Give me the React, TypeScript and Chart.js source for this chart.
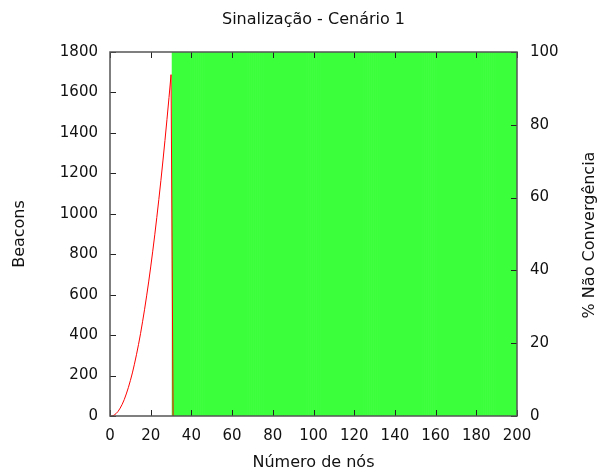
import React, { useEffect, useRef } from 'react';
import { Chart, registerables } from 'chart.js';

Chart.register(...registerables);

// Red curve: beacons per number of nodes (left axis)
const beaconNodes = [
  0, 1, 2, 3, 4, 5, 6, 7, 8, 9, 10, 11, 12, 13, 14, 15, 16, 17, 18, 19, 20,
  21, 22, 23, 24, 25, 26, 27, 28, 29, 30, 31,
];
const beaconValues = [
  0, 0, 4, 12, 23, 39, 58, 81, 109, 140, 175, 213, 256, 303, 353, 407, 466,
  528, 594, 663, 737, 815, 896, 982, 1071, 1164, 1261, 1362, 1467, 1575, 1688, 0,
];

// Green impulses: % non-convergence per number of nodes (right axis)
const convNodes = [
  31, 32, 33, 34, 35, 36, 37, 38, 39, 40, 41, 42, 43, 44, 45, 46, 47, 48, 49,
  50, 51, 52, 53, 54, 55, 56, 57, 58, 59, 60, 61, 62, 63, 64, 65, 66, 67, 68, 69,
  70, 71, 72, 73, 74, 75, 76, 77, 78, 79, 80, 81, 82, 83, 84, 85, 86, 87, 88, 89,
  90, 91, 92, 93, 94, 95, 96, 97, 98, 99, 100, 101, 102, 103, 104, 105, 106, 107, 108, 109,
  110, 111, 112, 113, 114, 115, 116, 117, 118, 119, 120, 121, 122, 123, 124, 125, 126, 127, 128, 129,
  130, 131, 132, 133, 134, 135, 136, 137, 138, 139, 140, 141, 142, 143, 144, 145, 146, 147, 148, 149,
  150, 151, 152, 153, 154, 155, 156, 157, 158, 159, 160, 161, 162, 163, 164, 165, 166, 167, 168, 169,
  170, 171, 172, 173, 174, 175, 176, 177, 178, 179, 180, 181, 182, 183, 184, 185, 186, 187, 188, 189,
  190, 191, 192, 193, 194, 195, 196, 197, 198, 199, 200,
];
const convValues = [
  100, 100, 100, 100, 100, 100, 100, 100, 100, 100, 100, 100, 100, 100, 100, 100, 100, 100, 100,
  100, 100, 100, 100, 100, 100, 100, 100, 100, 100, 100, 100, 100, 100, 100, 100, 100, 100, 100, 100,
  100, 100, 100, 100, 100, 100, 100, 100, 100, 100, 100, 100, 100, 100, 100, 100, 100, 100, 100, 100,
  100, 100, 100, 100, 100, 100, 100, 100, 100, 100, 100, 100, 100, 100, 100, 100, 100, 100, 100, 100,
  100, 100, 100, 100, 100, 100, 100, 100, 100, 100, 100, 100, 100, 100, 100, 100, 100, 100, 100, 100,
  100, 100, 100, 100, 100, 100, 100, 100, 100, 100, 100, 100, 100, 100, 100, 100, 100, 100, 100, 100,
  100, 100, 100, 100, 100, 100, 100, 100, 100, 100, 100, 100, 100, 100, 100, 100, 100, 100, 100, 100,
  100, 100, 100, 100, 100, 100, 100, 100, 100, 100, 100, 100, 100, 100, 100, 100, 100, 100, 100, 100,
  100, 100, 100, 100, 100, 100, 100, 100, 100, 100, 100,
];

const xTicks = [0, 20, 40, 60, 80, 100, 120, 140, 160, 180, 200];
const yTicks = [0, 200, 400, 600, 800, 1000, 1200, 1400, 1600, 1800];
const y2Ticks = [0, 20, 40, 60, 80, 100];

const Y2_TITLE = '% Não Convergência';

const FONT = 'DejaVu Sans';
const TICK_SIZE = 15;
const TITLE_SIZE = 16;

const gnuplotFrame = {
  id: 'gnuplotFrame',
  afterDatasetsDraw(chart: any) {
    const { ctx, chartArea: a, scales } = chart;
    const len = 6;
    ctx.save();
    ctx.strokeStyle = '#222';
    ctx.lineWidth = 1;
    ctx.beginPath();
    for (const t of scales.x.ticks) {
      const px = Math.round(scales.x.getPixelForValue(t.value)) + 0.5;
      ctx.moveTo(px, a.bottom);
      ctx.lineTo(px, a.bottom - len);
      ctx.moveTo(px, a.top);
      ctx.lineTo(px, a.top + len);
    }
    for (const t of scales.y.ticks) {
      const py = Math.round(scales.y.getPixelForValue(t.value)) + 0.5;
      ctx.moveTo(a.left, py);
      ctx.lineTo(a.left + len, py);
    }
    for (const t of scales.y2.ticks) {
      const py = Math.round(scales.y2.getPixelForValue(t.value)) + 0.5;
      ctx.moveTo(a.right, py);
      ctx.lineTo(a.right - len, py);
    }
    ctx.stroke();
    ctx.strokeStyle = '#555';
    ctx.lineWidth = 1.5;
    ctx.strokeRect(a.left, a.top, a.right - a.left, a.bottom - a.top);
    ctx.restore();
  },
  afterDraw(chart: any) {
    // right-axis title, rotated like the left one (reads bottom to top)
    const { ctx, chartArea: a, width } = chart;
    ctx.save();
    ctx.translate(width - 14, (a.top + a.bottom) / 2 + 1);
    ctx.rotate(-Math.PI / 2);
    ctx.fillStyle = '#111';
    ctx.font = `${TITLE_SIZE}px "${FONT}"`;
    ctx.textAlign = 'center';
    ctx.textBaseline = 'middle';
    ctx.fillText(Y2_TITLE, 0, 0);
    ctx.restore();
  },
};

const plainLabel = (v: any) => String(v);

export default function App() {
  const canvasRef = useRef<HTMLCanvasElement | null>(null);

  useEffect(() => {
    document.body.style.margin = '0';
    const canvas = canvasRef.current;
    if (!canvas) return;
    const chart = new Chart(canvas, {
      type: 'bar',
      data: {
        datasets: [
          {
            type: 'line',
            label: 'Beacons',
            data: beaconNodes.map((n, i) => ({ x: n, y: beaconValues[i] })),
            borderColor: '#ff0000',
            borderWidth: 1,
            pointRadius: 0,
            tension: 0,
            fill: false,
            yAxisID: 'y',
            xAxisID: 'x',
            order: 0,
          } as any,
          {
            type: 'bar',
            label: Y2_TITLE,
            data: convNodes.map((n, i) => ({ x: n, y: convValues[i] })),
            backgroundColor: '#3cff3c',
            borderWidth: 0,
            barPercentage: 1,
            categoryPercentage: 1,
            yAxisID: 'y2',
            xAxisID: 'x',
            order: 1,
          } as any,
        ],
      },
      options: {
        responsive: false,
        animation: false,
        devicePixelRatio: 1,
        layout: { padding: 0 },
        plugins: {
          legend: { display: false },
          tooltip: { enabled: false },
          title: {
            display: true,
            fullSize: false,
            text: 'Sinalização - Cenário 1',
            color: '#111',
            font: { family: FONT, size: TITLE_SIZE, weight: 'normal' },
            padding: { top: 10.4, bottom: 22.4 },
          },
        },
        scales: {
          x: {
            type: 'linear',
            position: 'bottom',
            min: 0,
            max: 200,
            offset: false,
            afterBuildTicks: (s: any) => {
              s.ticks = xTicks.map((v) => ({ value: v }));
            },
            afterFit: (s: any) => {
              s.height = 56;
            },
            grid: { display: false, drawTicks: false },
            border: { display: false },
            ticks: {
              color: '#111',
              font: { family: FONT, size: TICK_SIZE },
              padding: 11,
              maxRotation: 0,
              autoSkip: false,
              callback: plainLabel,
            },
            title: {
              display: true,
              text: 'Número de nós',
              color: '#111',
              font: { family: FONT, size: TITLE_SIZE },
              padding: { top: 0, bottom: 0 },
            },
          },
          y: {
            type: 'linear',
            position: 'left',
            min: 0,
            max: 1800,
            afterBuildTicks: (s: any) => {
              s.ticks = yTicks.map((v) => ({ value: v }));
            },
            afterFit: (s: any) => {
              s.width = 110;
            },
            grid: { display: false, drawTicks: false },
            border: { display: false },
            ticks: {
              color: '#111',
              font: { family: FONT, size: TICK_SIZE },
              padding: 12,
              autoSkip: false,
              callback: plainLabel,
            },
            title: {
              display: true,
              text: 'Beacons',
              color: '#111',
              font: { family: FONT, size: TITLE_SIZE },
              padding: { top: 10.4, bottom: 0 },
            },
          },
          y2: {
            type: 'linear',
            position: 'right',
            min: 0,
            max: 100,
            afterBuildTicks: (s: any) => {
              s.ticks = y2Ticks.map((v) => ({ value: v }));
            },
            afterFit: (s: any) => {
              s.width = 87;
            },
            grid: { display: false, drawTicks: false },
            border: { display: false },
            ticks: {
              color: '#111',
              font: { family: FONT, size: TICK_SIZE },
              padding: 13,
              autoSkip: false,
              callback: plainLabel,
            },
            title: { display: false },
          },
        },
      } as any,
      plugins: [gnuplotFrame],
    });
    return () => chart.destroy();
  }, []);

  return (
    <div style={{ width: 604, height: 472, background: '#fff' }}>
      <canvas ref={canvasRef} width={604} height={472} style={{ display: 'block' }} />
    </div>
  );
}
